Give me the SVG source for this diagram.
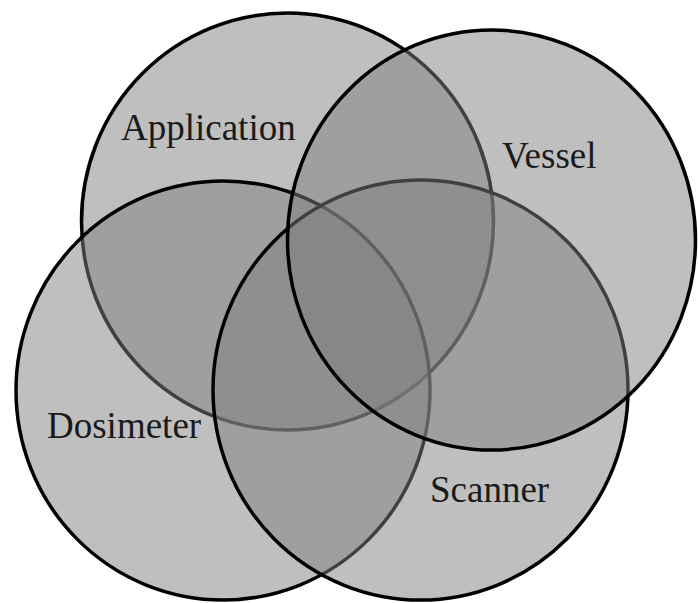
<svg xmlns="http://www.w3.org/2000/svg" width="698" height="603" viewBox="0 0 698 603">
<style>
.set{fill:#808080;fill-opacity:0.5;stroke:#000;stroke-width:3.5}
.lbl{font-family:"Liberation Serif","Times New Roman",serif;font-size:37px;fill:#1a1a1a}
</style>
<rect width="698" height="603" fill="#fff"/>
<g id="application"><ellipse class="set" cx="287.5" cy="221.5" rx="206" ry="208.5"/></g>
<g id="dosimeter"><ellipse class="set" cx="223" cy="390.5" rx="207" ry="209.5"/></g>
<g id="scanner"><ellipse class="set" cx="420.5" cy="390" rx="207.5" ry="210"/></g>
<g id="vessel"><ellipse class="set" cx="491.5" cy="240" rx="204" ry="210"/></g>
<g id="labels">
<text class="lbl" x="121" y="140">Application</text>
<text class="lbl" x="502" y="168">Vessel</text>
<text class="lbl" x="47" y="438">Dosimeter</text>
<text class="lbl" x="430" y="502">Scanner</text>
</g>
<g id="connectors"/>
</svg>
